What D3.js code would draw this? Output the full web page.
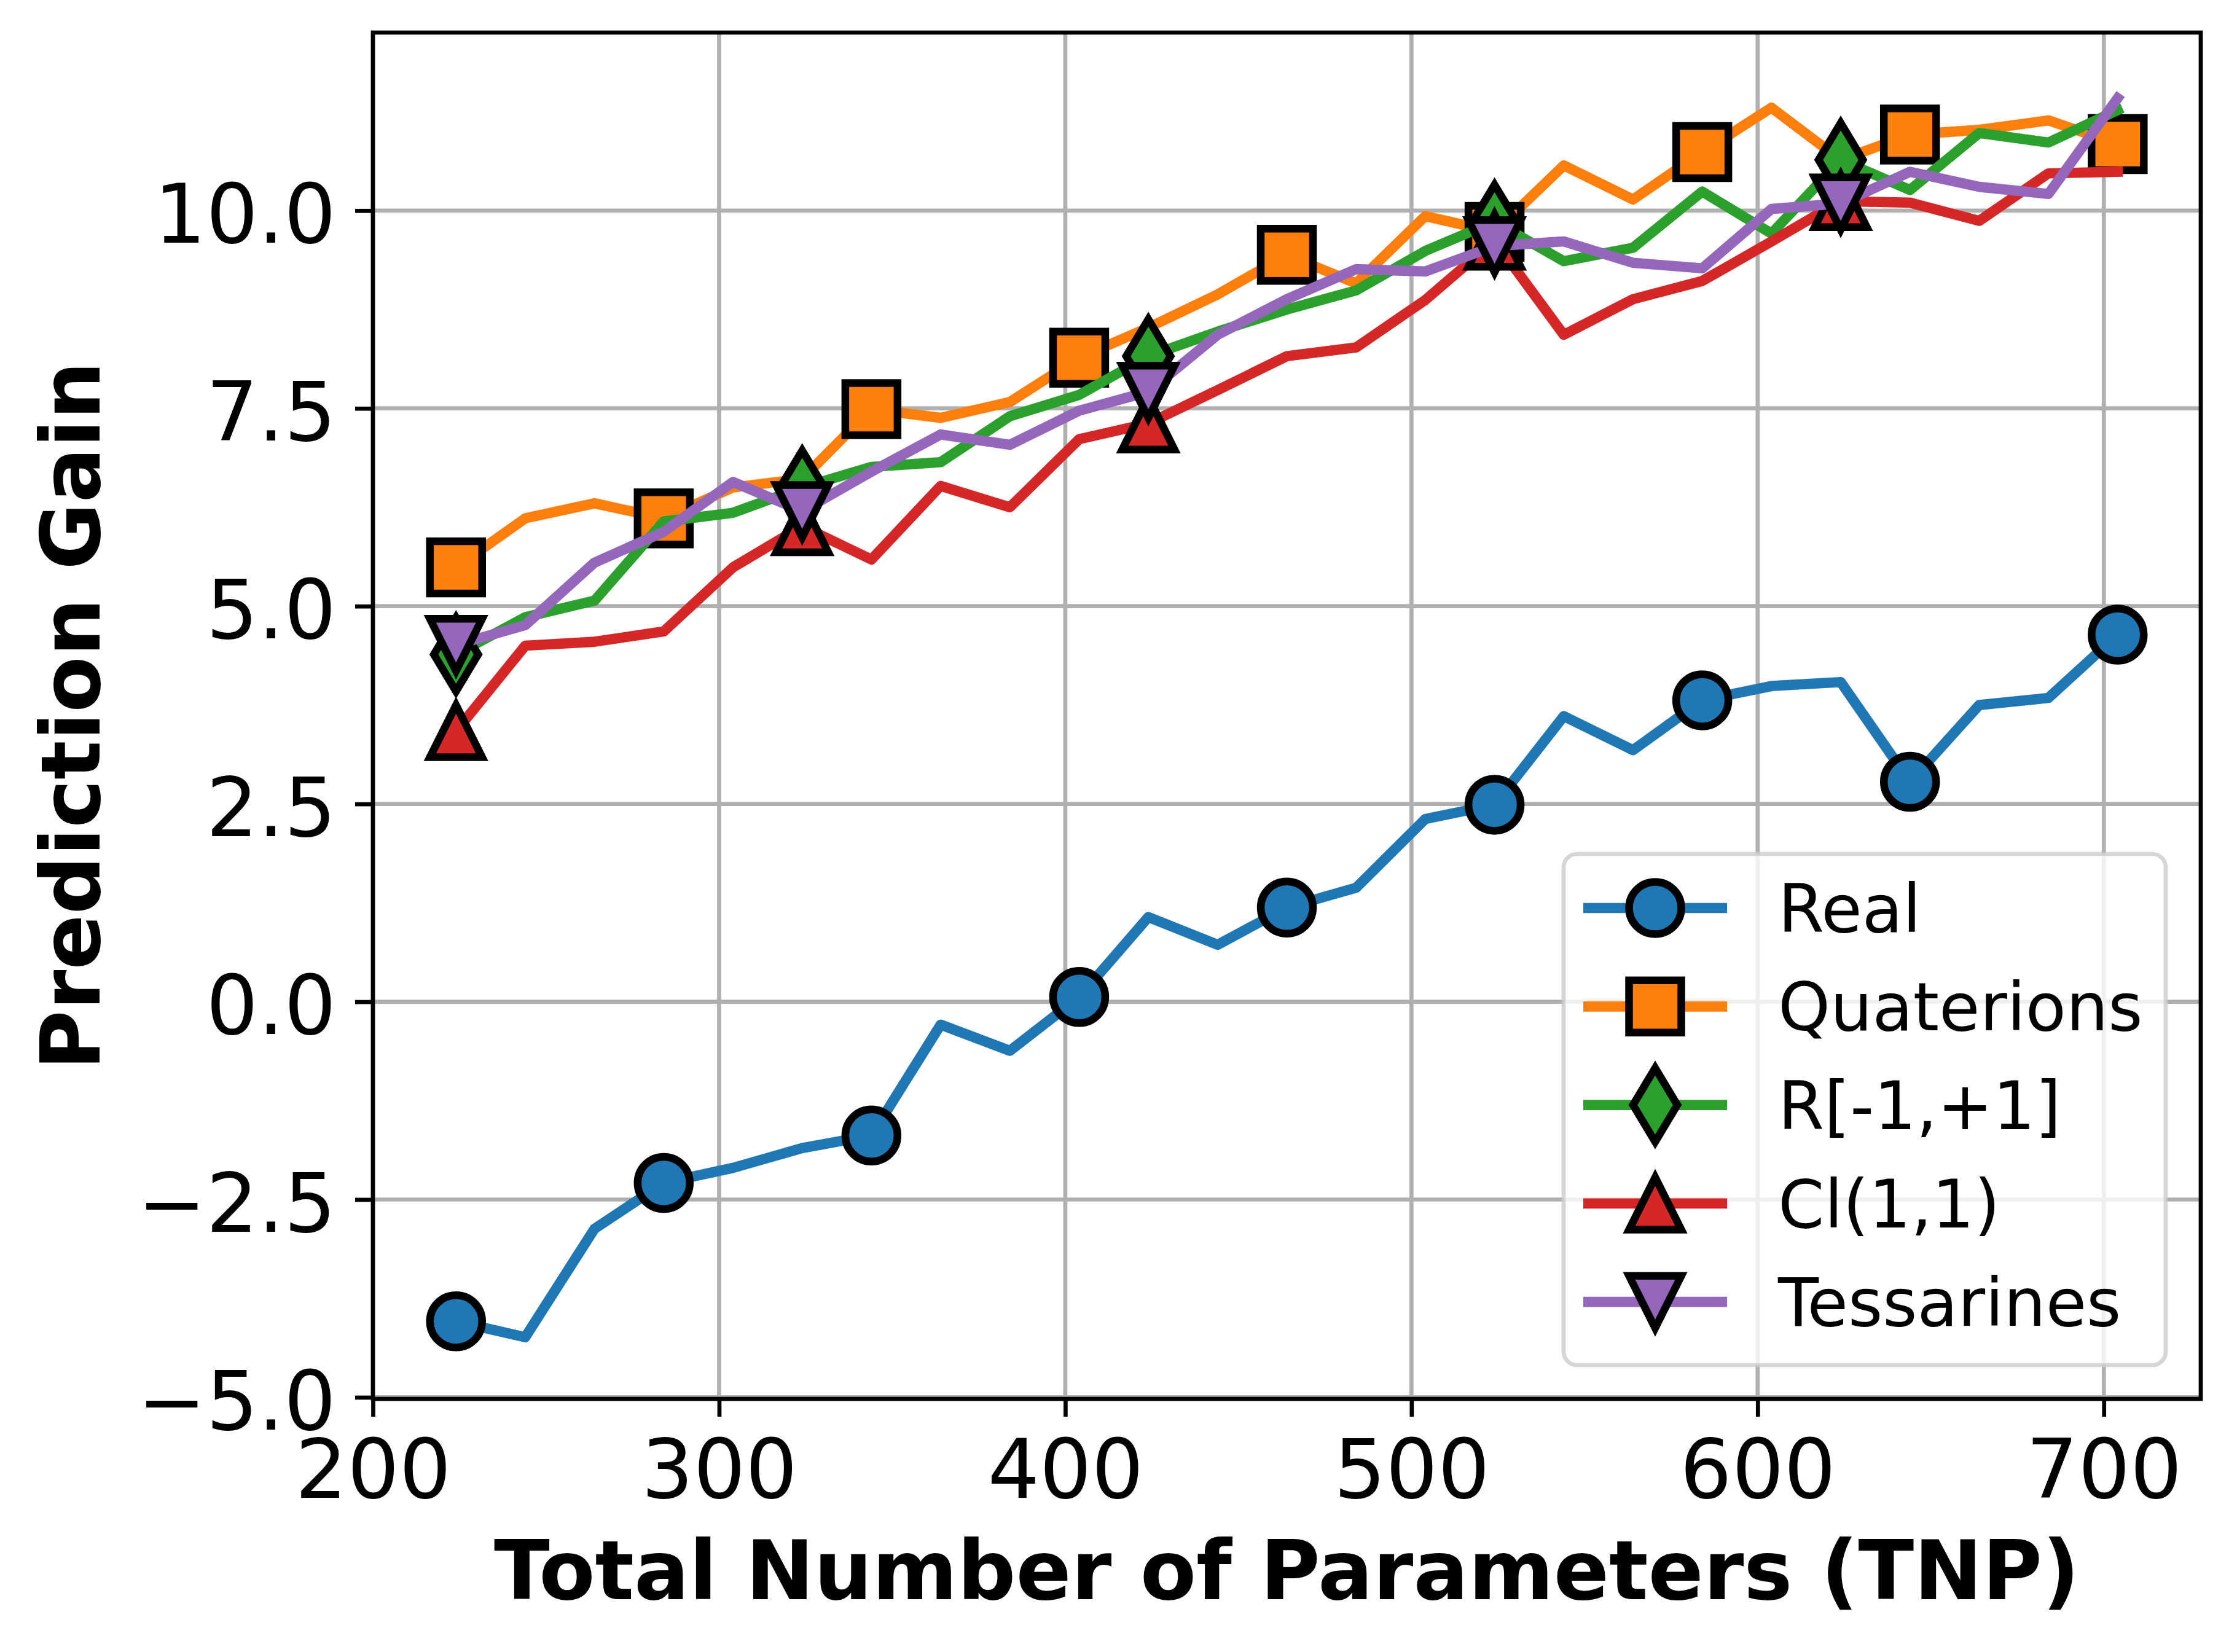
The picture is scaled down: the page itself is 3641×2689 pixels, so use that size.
<!DOCTYPE html>
<html>
<head>
<meta charset="utf-8">
<script src="https://cdn.jsdelivr.net/npm/d3@7"></script>
<style>
  body { margin: 0; background: #fff; }
  text { font-family: "DejaVu Sans", sans-serif; fill: #000; }
</style>
</head>
<body>
<div id="chart"></div>
<script>
// data
const tnp = [224, 244, 264, 284, 304, 324, 344, 364, 384, 404, 424, 444, 464,
             484, 504, 524, 544, 564, 584, 604, 624, 644, 664, 684, 704];

const realGain = [-4.04, -4.24, -2.87, -2.29, -2.10, -1.85, -1.69, -0.29, -0.62, 0.06,
                  1.07, 0.72, 1.19, 1.44, 2.31, 2.49, 3.61, 3.18, 3.81, 3.99,
                  4.04, 2.78, 3.75, 3.84, 4.64];
const quatGain = [5.49, 6.11, 6.30, 6.11, 6.50, 6.61, 7.49, 7.38, 7.58, 8.14,
                  8.52, 8.94, 9.44, 9.08, 9.93, 9.73, 10.57, 10.14, 10.74, 11.30,
                  10.64, 10.96, 11.02, 11.14, 10.84];
const rGain    = [4.39, 4.86, 5.07, 6.07, 6.18, 6.50, 6.76, 6.82, 7.40, 7.67,
                  8.16, 8.47, 8.75, 8.99, 9.49, 9.86, 9.36, 9.53, 10.24, 9.71,
                  10.64, 10.26, 10.98, 10.86, 11.27];
const clGain   = [3.42, 4.50, 4.55, 4.68, 5.49, 6.01, 5.59, 6.52, 6.25, 7.11,
                  7.31, 7.73, 8.16, 8.27, 8.87, 9.62, 8.43, 8.88, 9.11, 9.61,
                  10.12, 10.10, 9.87, 10.47, 10.49];
const tessGain = [4.51, 4.76, 5.55, 5.94, 6.57, 6.20, 6.70, 7.17, 7.04, 7.47,
                  7.71, 8.43, 8.88, 9.26, 9.23, 9.55, 9.61, 9.34, 9.27, 10.02,
                  10.09, 10.49, 10.30, 10.21, 11.42];

const seriesNames = ["Real", "Quaterions", "R[-1,+1]", "Cl(1,1)", "Tessarines"];
const xTicks = [200, 300, 400, 500, 600, 700];
const yTicks = [-5.0, -2.5, 0.0, 2.5, 5.0, 7.5, 10.0];

// looks
const colors  = ["#1f77b4", "#ff7f0e", "#2ca02c", "#d62728", "#9467bd"];
const shapes  = ["circle", "square", "thindiamond", "triup", "tridown"];
const markStep = [3, 3, 5, 5, 5];
const values  = [realGain, quatGain, rGain, clGain, tessGain];

const W = 3641, H = 2689;
const margin = {top: 53, right: W - 3582, bottom: H - 2277, left: 607},
    width = W - margin.left - margin.right,
    height = H - margin.top - margin.bottom;

const LW = 16.7, MS = 85, MEW = 12.5, THIN = 6.7;
const FS = 133, LEG_FS = 108;

const svg = d3.select("#chart")
  .append("svg")
    .attr("width", W)
    .attr("height", H)
    .style("display", "block");
svg.append("rect").attr("width", W).attr("height", H).attr("fill", "#fff");

const g = svg.append("g")
    .attr("transform", `translate(${margin.left},${margin.top})`);

const x = d3.scaleLinear().domain([200, 728]).range([0, width]);
const y = d3.scaleLinear().domain([-5.02, 12.25]).range([height, 0]);

// grid
g.append("g").selectAll("line").data(xTicks).join("line")
  .attr("x1", d => x(d)).attr("x2", d => x(d))
  .attr("y1", 0).attr("y2", height)
  .attr("stroke", "#b0b0b0").attr("stroke-width", THIN);
g.append("g").selectAll("line").data(yTicks).join("line")
  .attr("y1", d => y(d)).attr("y2", d => y(d))
  .attr("x1", 0).attr("x2", width)
  .attr("stroke", "#b0b0b0").attr("stroke-width", THIN);

// marker shapes, matplotlib-like
function markerPath(shape, s) {
  const h = s / 2;
  switch (shape) {
    case "circle": return d3.arc()({innerRadius: 0, outerRadius: h, startAngle: 0, endAngle: 2 * Math.PI});
    case "square": return `M${-h},${-h}H${h}V${h}H${-h}Z`;
    case "thindiamond": {
      const a = 0.7071 * s, b = 0.6 * a;
      return `M0,${-a}L${b},0L0,${a}L${-b},0Z`;
    }
    case "triup": return `M0,${-h}L${h},${h}L${-h},${h}Z`;
    case "tridown": return `M0,${h}L${h},${-h}L${-h},${-h}Z`;
  }
}

const line = d3.line().x(d => x(d.t)).y(d => y(d.v));

values.forEach((vals, i) => {
  const pts = tnp.map((t, j) => ({t: t, v: vals[j], j: j}));
  const sg = g.append("g").attr("class", "series");
  sg.append("path")
    .datum(pts)
    .attr("fill", "none")
    .attr("stroke", colors[i])
    .attr("stroke-width", LW)
    .attr("stroke-linejoin", "round")
    .attr("stroke-linecap", "square")
    .attr("d", line);
  sg.selectAll("path.mk")
    .data(pts.filter(d => d.j % markStep[i] === 0))
    .join("path")
      .attr("class", "mk")
      .attr("transform", d => `translate(${x(d.t)},${y(d.v)})`)
      .attr("d", markerPath(shapes[i], MS))
      .attr("fill", colors[i])
      .attr("stroke", "#000")
      .attr("stroke-width", MEW)
      .attr("stroke-linejoin", "miter");
});

// axes
const xAxis = g.append("g")
  .attr("transform", `translate(0,${height})`)
  .call(d3.axisBottom(x).tickValues(xTicks).tickSizeInner(29).tickSizeOuter(0).tickPadding(38));
const yAxis = g.append("g")
  .call(d3.axisLeft(y).tickValues(yTicks).tickSizeInner(29).tickSizeOuter(0).tickPadding(31)
    .tickFormat(d => d.toFixed(1).replace("-", "\u2212")));
[xAxis, yAxis].forEach(a => {
  a.select(".domain").remove();
  a.selectAll(".tick line").attr("stroke", "#000").attr("stroke-width", THIN);
  a.selectAll(".tick text")
    .attr("font-size", FS)
    .attr("font-family", "DejaVu Sans");
});
yAxis.selectAll(".tick text").attr("dy", "0.39em");

// spines
g.append("rect")
  .attr("width", width).attr("height", height)
  .attr("fill", "none").attr("stroke", "#000").attr("stroke-width", THIN);

// axis labels
svg.append("text")
  .attr("x", margin.left + width / 2)
  .attr("y", 2603)
  .attr("text-anchor", "middle")
  .attr("font-size", FS)
  .attr("font-weight", "bold")
  .text("Total Number of Parameters (TNP)");

svg.append("text")
  .attr("transform", `translate(162,${margin.top + height / 2}) rotate(-90)`)
  .attr("text-anchor", "middle")
  .attr("font-size", FS)
  .attr("font-weight", "bold")
  .text("Prediction Gain");

// legend
const leg = svg.append("g");
leg.append("rect")
  .attr("x", 2545).attr("y", 1390)
  .attr("width", 980).attr("height", 832)
  .attr("rx", 22).attr("ry", 22)
  .attr("fill", "#fff").attr("fill-opacity", 0.8)
  .attr("stroke", "#cccccc").attr("stroke-opacity", 0.8)
  .attr("stroke-width", THIN);

const rowY = i => 1478 + i * 160.3;
seriesNames.forEach((name, i) => {
  leg.append("line")
    .attr("x1", 2577).attr("x2", 2811)
    .attr("y1", rowY(i)).attr("y2", rowY(i))
    .attr("stroke", colors[i]).attr("stroke-width", LW);
  leg.append("path")
    .attr("transform", `translate(2694,${rowY(i)})`)
    .attr("d", markerPath(shapes[i], MS))
    .attr("fill", colors[i])
    .attr("stroke", "#000")
    .attr("stroke-width", MEW)
    .attr("stroke-linejoin", "miter");
  leg.append("text")
    .attr("x", 2894)
    .attr("y", rowY(i) + 39)
    .attr("font-size", LEG_FS)
    .text(name);
});
</script>
</body>
</html>
